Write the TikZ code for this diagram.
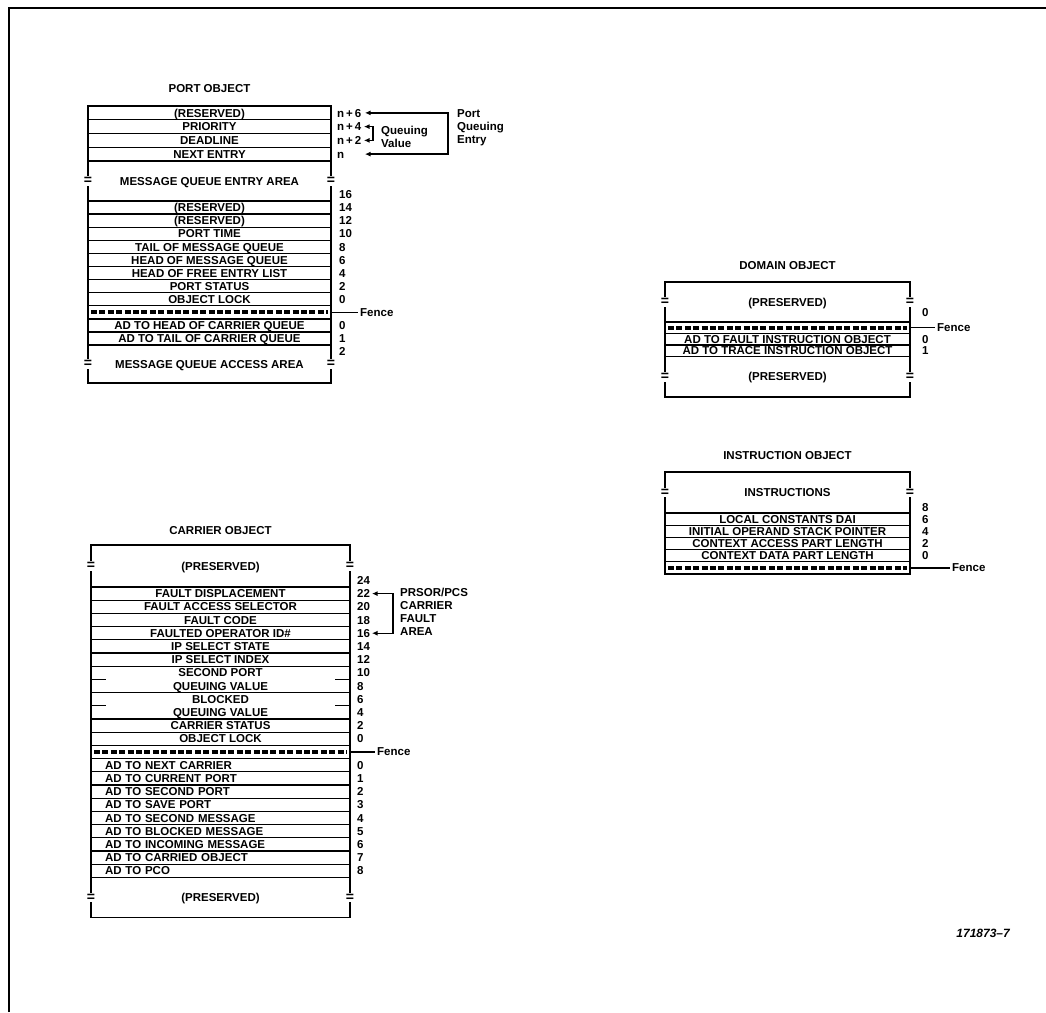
\documentclass[tikz,border=0pt]{standalone}
\usepackage{fontspec}
\setmainfont{Liberation Sans}
\usetikzlibrary{positioning,arrows.meta,calc}
\newcommand{\cellfont}{\fontsize{11.5}{13.2}\selectfont\bfseries}
\tikzset{
  cell/.style={draw, line width=1.3pt, inner sep=0pt, outer sep=0pt, anchor=north,
               text height=8.3pt, text depth=0pt, font=\cellfont},
  portcell/.style={cell, minimum width=243pt, minimum height=13.75pt},
  portrow/.style={cell, minimum width=243pt, minimum height=13.1pt},
  carcell/.style={cell, minimum width=259pt, minimum height=13.2pt},
  carpair/.style={carcell, minimum height=26.4pt},
  carad/.style={carcell, align=left, text width=231pt, inner xsep=14pt},
  domcell/.style={cell, minimum width=245pt, minimum height=11.5pt},
  inscell/.style={cell, minimum width=245pt, minimum height=12.2pt},
  fencerow/.style={path picture={
      \draw[line width=3.8pt, dash pattern=on 6pt off 2.4pt]
        ([xshift=3pt]path picture bounding box.west) --
        ([xshift=-3pt]path picture bounding box.east);}},
  side/.style={line width=1.7pt},
  rule/.style={line width=1.3pt},
  frame/.style={line width=1.5pt},
  brk/.style={fill=white, inner sep=1.2pt, minimum height=9pt,
              font=\fontsize{14}{14}\selectfont\bfseries},
  lbl/.style={inner sep=0pt, text height=8.3pt, text depth=0pt, font=\cellfont},
  offs/.style={lbl, anchor=west},
  note/.style={anchor=west, inner sep=0pt, align=left, font=\cellfont},
  ttl/.style={lbl},
  brace/.style={{Latex[length=5.5pt,width=5pt]}-{Latex[length=5.5pt,width=5pt]},
                line width=1.3pt},
}

\begin{document}
\begin{tikzpicture}[x=1pt, y=-1pt]
\useasboundingbox (0,0) rectangle (1046,1012);
\draw[frame] (9,1012) -- (9,8) -- (1046,8);

% port object
\node[ttl] (ptitle) at (209.5,88) {PORT OBJECT};
\node[portcell]                  (p1)  at (209.5,106) {(RESERVED)};
\node[portcell, below=0pt of p1] (p2)  {PRIORITY};
\node[portcell, below=0pt of p2] (p3)  {DEADLINE};
\node[portcell, below=0pt of p3] (p4)  {NEXT ENTRY};
\node[portrow, below=40pt of p4] (q1)  {(RESERVED)};
\node[portrow, below=0pt of q1]  (q2)  {(RESERVED)};
\node[portrow, below=0pt of q2]  (q3)  {PORT TIME};
\node[portrow, below=0pt of q3]  (q4)  {TAIL OF MESSAGE QUEUE};
\node[portrow, below=0pt of q4]  (q5)  {HEAD OF MESSAGE QUEUE};
\node[portrow, below=0pt of q5]  (q6)  {HEAD OF FREE ENTRY LIST};
\node[portrow, below=0pt of q6]  (q7)  {PORT STATUS};
\node[portrow, below=0pt of q7]  (q8)  {OBJECT LOCK};
\node[portrow, fencerow, below=0pt of q8] (qf) {};
\node[portrow, below=0pt of qf]  (q9)  {AD TO HEAD OF CARRIER QUEUE};
\node[portrow, below=0pt of q9]  (q10) {AD TO TAIL OF CARRIER QUEUE};

\draw[side] (p4.south west) -- (q1.north west);
\draw[side] (p4.south east) -- (q1.north east);
\coordinate (pgap) at ($(p4.south)!0.5!(q1.north)$);
\node[ttl] (pentry) at (pgap) {MESSAGE QUEUE ENTRY AREA};
\node[brk] (pb1) at (pgap -| p4.west) {=};
\node[brk] (pb2) at (pgap -| p4.east) {=};

\coordinate (pbl) at ([yshift=-38pt]q10.south west);
\coordinate (pbr) at ([yshift=-38pt]q10.south east);
\draw[side] (q10.south west) -- (pbl) -- (pbr) -- (q10.south east);
\coordinate (pgap2) at ($(q10.south)!0.5!(pbl -| q10.south)$);
\node[ttl] (paccess) at (pgap2) {MESSAGE QUEUE ACCESS AREA};
\node[brk] (pb3) at (pgap2 -| pbl) {=};
\node[brk] (pb4) at (pgap2 -| pbr) {=};

\node[offs] (op1) at ([xshift=6pt]p1.east) {n\,+\,6};
\node[offs] (op2) at ([xshift=6pt]p2.east) {n\,+\,4};
\node[offs] (op3) at ([xshift=6pt]p3.east) {n\,+\,2};
\node[offs] (op4) at ([xshift=6pt]p4.east) {n};
\node[offs] (oq0) at ([xshift=8pt, yshift=13.1pt]q1.east) {16};
\foreach \r/\v in {q1/14,q2/12,q3/10,q4/8,q5/6,q6/4,q7/2,q8/0,q9/0,q10/1}
  \node[offs] (o\r) at ([xshift=8pt]\r.east) {\v};
\node[offs] (oq11) at ([xshift=8pt, yshift=-13.1pt]q10.east) {2};

\coordinate (pv4) at ([xshift=33pt]p2.east);
\coordinate (pv2) at ([xshift=33pt]p3.east);
\draw[brace] (pv4) -- ++(9pt,0) |- (pv2);
\node[note] (pvalue) at (381,137) {Queuing\\Value};
\coordinate (pe6) at ([xshift=34pt]p1.east);
\coordinate (pe0) at ([xshift=34pt]p4.east);
\draw[brace] (pe6) -- ++(83pt,0) |- (pe0);
\node[note] (pentrynote) at (457,128) {Port\\Queuing\\Entry};
\node[note] (pfence) at ([xshift=29pt]qf.east) {Fence};
\draw[rule] (qf.east) -- ([xshift=-2pt]pfence.west);

% carrier object
\node[ttl] (ctitle) at (220.5,530) {CARRIER OBJECT};
\node[carcell]                   (c1)  at (220.5,587) {FAULT DISPLACEMENT};
\node[carcell, below=0pt of c1]  (c2)  {FAULT ACCESS SELECTOR};
\node[carcell, below=0pt of c2]  (c3)  {FAULT CODE};
\node[carcell, below=0pt of c3]  (c4)  {FAULTED OPERATOR ID\#};
\node[carcell, below=0pt of c4]  (c5)  {IP SELECT STATE};
\node[carcell, below=0pt of c5]  (c6)  {IP SELECT INDEX};
\node[carpair, below=0pt of c6]  (c7)  {};
\node[carpair, below=0pt of c7]  (c8)  {};
\node[carcell, below=0pt of c8]  (c9)  {CARRIER STATUS};
\node[carcell, below=0pt of c9]  (c10) {OBJECT LOCK};
\node[carcell, fencerow, below=0pt of c10] (cf) {};
\node[carad, below=0pt of cf]    (a0)  {AD TO NEXT CARRIER};
\node[carad, below=0pt of a0]    (a1)  {AD TO CURRENT PORT};
\node[carad, below=0pt of a1]    (a2)  {AD TO SECOND PORT};
\node[carad, below=0pt of a2]    (a3)  {AD TO SAVE PORT};
\node[carad, below=0pt of a3]    (a4)  {AD TO SECOND MESSAGE};
\node[carad, below=0pt of a4]    (a5)  {AD TO BLOCKED MESSAGE};
\node[carad, below=0pt of a5]    (a6)  {AD TO INCOMING MESSAGE};
\node[carad, below=0pt of a6]    (a7)  {AD TO CARRIED OBJECT};
\node[carad, below=0pt of a7]    (a8)  {AD TO PCO};

\node[lbl] (c7a) at ([yshift=6.6pt]c7.center)  {SECOND PORT};
\node[lbl] (c7b) at ([yshift=-6.6pt]c7.center) {QUEUING VALUE};
\node[lbl] (c8a) at ([yshift=6.6pt]c8.center)  {BLOCKED};
\node[lbl] (c8b) at ([yshift=-6.6pt]c8.center) {QUEUING VALUE};
\draw[rule] (c7.west) -- ++(15pt,0);
\draw[rule] (c7.east) -- ++(-15pt,0);
\draw[rule] (c8.west) -- ++(15pt,0);
\draw[rule] (c8.east) -- ++(-15pt,0);

\coordinate (ctl) at ([yshift=42pt]c1.north west);
\coordinate (ctr) at ([yshift=42pt]c1.north east);
\draw[side] (c1.north west) -- (ctl) -- (ctr) -- (c1.north east);
\coordinate (cgap) at ($(c1.north)!0.5!(ctl -| c1.north)$);
\node[ttl] (cpres1) at (cgap) {(PRESERVED)};
\node[brk] (cb1) at (cgap -| ctl) {=};
\node[brk] (cb2) at (cgap -| ctr) {=};

\coordinate (cbl) at ([yshift=-40pt]a8.south west);
\coordinate (cbr) at ([yshift=-40pt]a8.south east);
\draw[side] (a8.south west) -- (cbl) -- (cbr) -- (a8.south east);
\coordinate (cgap2) at ($(a8.south)!0.5!(cbl -| a8.south)$);
\node[ttl] (cpres2) at (cgap2) {(PRESERVED)};
\node[brk] (cb3) at (cgap2 -| cbl) {=};
\node[brk] (cb4) at (cgap2 -| cbr) {=};

\node[offs] (oc0) at ([xshift=7pt, yshift=13.2pt]c1.east) {24};
\foreach \r/\v in {c1/22,c2/20,c3/18,c4/16,c5/14,c6/12,c9/2,c10/0,
                   a0/0,a1/1,a2/2,a3/3,a4/4,a5/5,a6/6,a7/7,a8/8}
  \node[offs] (o\r) at ([xshift=7pt]\r.east) {\v};
\node[offs] (oc7a) at ([xshift=7pt, yshift=6.6pt]c7.east)  {10};
\node[offs] (oc7b) at ([xshift=7pt, yshift=-6.6pt]c7.east) {8};
\node[offs] (oc8a) at ([xshift=7pt, yshift=6.6pt]c8.east)  {6};
\node[offs] (oc8b) at ([xshift=7pt, yshift=-6.6pt]c8.east) {4};

\coordinate (cf22) at ([xshift=22pt]c1.east);
\coordinate (cf16) at ([xshift=22pt]c4.east);
\draw[brace] (cf22) -- ++(21pt,0) |- (cf16);
\node[note] (cfault) at (400,612) {PRSOR/PCS\\CARRIER\\FAULT\\AREA};
\node[note] (cfence) at ([xshift=27pt]cf.east) {Fence};
\draw[rule] (cf.east) -- ([xshift=-2pt]cfence.west);

% domain object
\node[ttl] (dtitle) at (787.5,265) {DOMAIN OBJECT};
\node[domcell, fencerow]         (df) at (787.5,322) {};
\node[domcell, below=0pt of df]  (d1) {AD TO FAULT INSTRUCTION OBJECT};
\node[domcell, below=0pt of d1]  (d2) {AD TO TRACE INSTRUCTION OBJECT};

\coordinate (dtl) at ([yshift=40pt]df.north west);
\coordinate (dtr) at ([yshift=40pt]df.north east);
\draw[side] (df.north west) -- (dtl) -- (dtr) -- (df.north east);
\coordinate (dgap) at ($(df.north)!0.5!(dtl -| df.north)$);
\node[ttl] (dpres1) at (dgap) {(PRESERVED)};
\node[brk] (db1) at (dgap -| dtl) {=};
\node[brk] (db2) at (dgap -| dtr) {=};

\coordinate (dbl) at ([yshift=-40.5pt]d2.south west);
\coordinate (dbr) at ([yshift=-40.5pt]d2.south east);
\draw[side] (d2.south west) -- (dbl) -- (dbr) -- (d2.south east);
\coordinate (dgap2) at ($(d2.south)!0.5!(dbl -| d2.south)$);
\node[ttl] (dpres2) at (dgap2) {(PRESERVED)};
\node[brk] (db3) at (dgap2 -| dbl) {=};
\node[brk] (db4) at (dgap2 -| dbr) {=};

\node[offs] (odf) at ([xshift=12pt, yshift=15pt]df.east) {0};
\node[offs] (od1) at ([xshift=12pt]d1.east) {0};
\node[offs] (od2) at ([xshift=12pt]d2.east) {1};
\node[note] (dfence) at ([xshift=27pt]df.east) {Fence};
\draw[rule] (df.east) -- ([xshift=-2pt]dfence.west);

% instruction object
\node[ttl] (ititle) at (787.5,455) {INSTRUCTION OBJECT};
\node[inscell]                   (i1) at (787.5,513) {LOCAL CONSTANTS DAI};
\node[inscell, below=0pt of i1]  (i2) {INITIAL OPERAND STACK POINTER};
\node[inscell, below=0pt of i2]  (i3) {CONTEXT ACCESS PART LENGTH};
\node[inscell, below=0pt of i3]  (i4) {CONTEXT DATA PART LENGTH};
\node[inscell, fencerow, below=0pt of i4] (if) {};

\coordinate (itl) at ([yshift=41pt]i1.north west);
\coordinate (itr) at ([yshift=41pt]i1.north east);
\draw[side] (i1.north west) -- (itl) -- (itr) -- (i1.north east);
\coordinate (igap) at ($(i1.north)!0.5!(itl -| i1.north)$);
\node[ttl] (iinstr) at (igap) {INSTRUCTIONS};
\node[brk] (ib1) at (igap -| itl) {=};
\node[brk] (ib2) at (igap -| itr) {=};

\node[offs] (oi0) at ([xshift=12pt, yshift=12.2pt]i1.east) {8};
\foreach \r/\v in {i1/6,i2/4,i3/2,i4/0}
  \node[offs] (o\r) at ([xshift=12pt]\r.east) {\v};
\node[note] (ifence) at ([xshift=42pt]if.east) {Fence};
\draw[rule] (if.east) -- ([xshift=-2pt]ifence.west);

\node[anchor=east, inner sep=0pt, font=\fontsize{12}{14}\selectfont\bfseries\itshape]
  (fignum) at (1010,933) {171873--7};
\end{tikzpicture}
\end{document}
